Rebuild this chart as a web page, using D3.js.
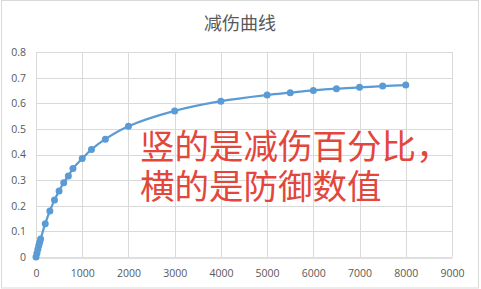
<!DOCTYPE html>
<html>
<head>
<meta charset="utf-8">
<script src="https://cdn.jsdelivr.net/npm/d3@7"></script>
<style>
  body { margin: 0; background: #fff; }
  svg { display: block; }
</style>
</head>
<body>
<svg id="chart" width="481" height="289"></svg>
<script>
// defence values (x) and damage reduction (y)
var defence = [0, 20, 40, 60, 80, 100, 200, 300, 400, 500, 600, 700, 800, 1000, 1200, 1500, 2000,
               3000, 4000, 5000, 5500, 6000, 6500, 7000, 7500, 8000];
var reduction = [0, 0.015, 0.03, 0.045, 0.058, 0.07, 0.13, 0.18, 0.222, 0.258, 0.29, 0.316, 0.345,
                 0.384, 0.42, 0.46, 0.51, 0.57, 0.608, 0.632, 0.641, 0.65, 0.657, 0.662, 0.667, 0.671];
var xTicks = [0, 1000, 2000, 3000, 4000, 5000, 6000, 7000, 8000, 9000];
var yTicks = [0, 0.1, 0.2, 0.3, 0.4, 0.5, 0.6, 0.7, 0.8];
var title = "减伤曲线";
var noteLines = ["竖的是减伤百分比，", "横的是防御数值"];

var svg = d3.select("#chart");
var plot = { left: 36, right: 452, top: 52, bottom: 257 };

var x = d3.scaleLinear().domain([0, 9000]).range([plot.left, plot.right]);
var y = d3.scaleLinear().domain([0, 0.8]).range([plot.bottom, plot.top]);

// outer chart border
svg.append("rect")
    .attr("x", 1.5).attr("y", 0.5)
    .attr("width", 477).attr("height", 287.5)
    .attr("fill", "none")
    .attr("stroke", "#d9d9d9");

svg.append("text")
    .attr("x", 240).attr("y", 30)
    .attr("text-anchor", "middle")
    .attr("font-family", "'Noto Sans CJK SC', sans-serif")
    .attr("font-size", 18)
    .attr("fill", "#595959")
    .text(title);

// gridlines
svg.append("g").selectAll("line").data(yTicks.slice(1)).join("line")
    .attr("x1", plot.left).attr("x2", plot.right)
    .attr("y1", function (d) { return Math.round(y(d)) + 0.5; })
    .attr("y2", function (d) { return Math.round(y(d)) + 0.5; })
    .attr("stroke", "#d9d9d9");
svg.append("g").selectAll("line").data(xTicks).join("line")
    .attr("x1", function (d) { return Math.round(x(d)) + 0.5; })
    .attr("x2", function (d) { return Math.round(x(d)) + 0.5; })
    .attr("y1", plot.top).attr("y2", plot.bottom)
    .attr("stroke", "#d9d9d9");

// axes
var xAxis = svg.append("g")
    .attr("transform", "translate(0," + (plot.bottom + 0.5) + ")")
    .call(d3.axisBottom(x).tickValues(xTicks).tickSize(0).tickPadding(12).tickFormat(d3.format("d")));
var yAxis = svg.append("g")
    .attr("transform", "translate(" + (plot.left - 10) + ",0)")
    .call(d3.axisLeft(y).tickValues(yTicks).tickSize(0).tickPadding(0).tickFormat(function (d) { return d === 0 ? "0" : d3.format(".1f")(d); }));
yAxis.select(".domain").remove();
xAxis.select(".domain").attr("stroke", "#bfbfbf");
svg.selectAll(".tick text")
    .attr("font-family", "'Open Sans', 'DejaVu Sans', sans-serif")
    .attr("font-size", 10.5)
    .attr("fill", "#595959");

// series
var pts = defence.map(function (d, i) { return [d, reduction[i]]; });
var line = d3.line()
    .x(function (d) { return x(d[0]); })
    .y(function (d) { return y(d[1]); })
    .curve(d3.curveCatmullRom.alpha(0.5));
svg.append("path")
    .datum(pts)
    .attr("d", line)
    .attr("fill", "none")
    .attr("stroke", "#5b9bd5")
    .attr("stroke-width", 2.25);
svg.append("g").selectAll("circle").data(pts).join("circle")
    .attr("cx", function (d) { return x(d[0]); })
    .attr("cy", function (d) { return y(d[1]); })
    .attr("r", 3.5)
    .attr("fill", "#5b9bd5");

// red note, one text block with two lines
var note = svg.append("text")
    .attr("x", 140)
    .attr("y", 159)
    .attr("font-family", "'Noto Sans CJK SC', sans-serif")
    .attr("font-size", 34.5)
    .attr("fill", "#e3463b");
note.selectAll("tspan").data(noteLines).join("tspan")
    .attr("x", 140)
    .attr("dy", function (d, i) { return i === 0 ? 0 : 40; })
    .text(function (d) { return d; });
</script>
</body>
</html>
